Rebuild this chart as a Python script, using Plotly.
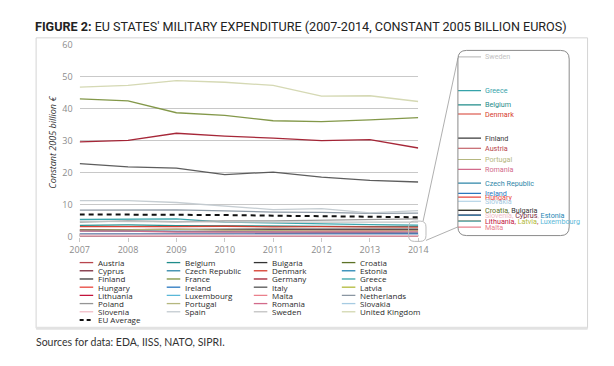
import plotly.graph_objects as go

W, H = 614, 366

years = [2007, 2008, 2009, 2010, 2011, 2012, 2013, 2014]

countries = ["Austria", "Belgium", "Bulgaria", "Croatia",
             "Cyprus", "Czech Republic", "Denmark", "Estonia",
             "Finland", "France", "Germany", "Greece",
             "Hungary", "Ireland", "Italy", "Latvia",
             "Lithuania", "Luxembourg", "Malta", "Netherlands",
             "Poland", "Portugal", "Romania", "Slovakia",
             "Slovenia", "Spain", "Sweden", "United Kingdom"]

austria = [2.20, 2.30, 2.30, 2.20, 2.20, 2.20, 2.10, 2.13]
belgium = [3.60, 3.70, 3.50, 3.40, 3.30, 3.20, 3.20, 3.28]
bulgaria = [0.75, 0.75, 0.60, 0.55, 0.50, 0.50, 0.50, 0.48]
croatia = [0.70, 0.70, 0.65, 0.60, 0.55, 0.50, 0.50, 0.48]
cyprus = [0.35, 0.38, 0.40, 0.38, 0.38, 0.36, 0.34, 0.35]
czech = [1.90, 1.80, 1.70, 1.50, 1.40, 1.30, 1.20, 1.20]
denmark = [3.20, 3.10, 3.20, 3.30, 3.10, 3.20, 3.10, 3.04]
estonia = [0.30, 0.30, 0.28, 0.27, 0.30, 0.32, 0.33, 0.35]
finland = [2.20, 2.30, 2.40, 2.40, 2.40, 2.40, 2.40, 2.40]
france = [43.0, 42.4, 38.7, 37.9, 36.2, 35.9, 36.5, 37.2]
germany = [29.6, 30.1, 32.3, 31.4, 30.8, 30.0, 30.3, 27.7]
greece = [5.40, 5.50, 5.60, 4.60, 4.30, 4.00, 3.80, 3.66]
hungary = [1.00, 0.95, 0.90, 0.85, 0.82, 0.80, 0.78, 0.83]
ireland = [0.90, 0.92, 0.95, 0.90, 0.88, 0.88, 0.90, 0.93]
italy = [22.8, 21.8, 21.4, 19.4, 20.2, 18.6, 17.6, 17.1]
latvia = [0.30, 0.28, 0.20, 0.18, 0.18, 0.18, 0.19, 0.19]
lithuania = [0.30, 0.32, 0.26, 0.22, 0.20, 0.20, 0.20, 0.19]
luxembourg = [0.15, 0.16, 0.17, 0.17, 0.18, 0.18, 0.19, 0.19]
malta = [0.04, 0.04, 0.04, 0.04, 0.04, 0.04, 0.04, 0.03]
netherlands = [8.30, 8.30, 8.40, 8.10, 7.70, 7.60, 7.30, 7.40]
poland = [4.60, 5.00, 4.70, 5.00, 5.00, 5.20, 5.30, 5.60]
portugal = [2.10, 2.20, 2.30, 2.10, 1.90, 1.80, 1.80, 1.83]
romania = [1.80, 1.80, 1.50, 1.45, 1.50, 1.50, 1.50, 1.57]
slovakia = [0.85, 0.85, 0.80, 0.70, 0.70, 0.68, 0.66, 0.72]
slovenia = [0.50, 0.50, 0.50, 0.45, 0.40, 0.37, 0.35, 0.35]
spain = [11.3, 11.3, 10.7, 9.7, 8.5, 8.8, 7.5, 8.2]
sweden = [4.80, 4.70, 4.60, 4.70, 4.60, 4.60, 4.50, 4.56]
uk = [46.7, 47.2, 48.7, 48.2, 47.2, 43.9, 44.0, 42.2]
eu_average = [7.0, 7.0, 7.0, 6.8, 6.6, 6.4, 6.3, 6.1]

series = [austria, belgium, bulgaria, croatia, cyprus, czech, denmark, estonia,
          finland, france, germany, greece, hungary, ireland, italy, latvia,
          lithuania, luxembourg, malta, netherlands, poland, portugal, romania,
          slovakia, slovenia, spain, sweden, uk]

colors = ["#b8454d", "#1f8c8a", "#333333", "#5d7226",
          "#7a2a3c", "#2e86a8", "#d63a2c", "#2586b4",
          "#3a3a3a", "#7d9340", "#a21c2e", "#35a3aa",
          "#e8453c", "#2a78c0", "#555555", "#b3ba3a",
          "#c2143c", "#5ab8d8", "#ea808c", "#8a96a2",
          "#959595", "#b5b77f", "#d26a8a", "#a6cbe2",
          "#f0bcc6", "#c3cbd0", "#c2c2c2", "#d3d7b0"]

inset_groups = [["Sweden"], ["Greece"], ["Belgium"], ["Denmark"], ["Finland"],
                ["Austria"], ["Portugal"], ["Romania"], ["Czech Republic"],
                ["Ireland"], ["Hungary"], ["Slovakia"], ["Croatia", "Bulgaria"],
                ["Slovenia", "Cyprus", "Estonia"],
                ["Lithuania", "Latvia", "Luxembourg"], ["Malta"]]

title_bold = "FIGURE 2:"
title_rest = "EU STATES' MILITARY EXPENDITURE (2007-2014, CONSTANT 2005 BILLION EUROS)"
source_text = "Sources for data: EDA, IISS, NATO, SIPRI."
y_title = "Constant 2005 billion €"
y_ticks = [0, 10, 20, 30, 40, 50, 60]


def X(px):
    return px / W


def Y(py):
    return 1 - py / H


data = dict(zip(countries, series))
col = dict(zip(countries, colors))

fig = go.Figure()

for name, vals, c in zip(countries, series, colors):
    fig.add_trace(go.Scatter(x=years, y=vals, mode="lines", name=name,
                             line=dict(color=c, width=1.3), opacity=0.95,
                             showlegend=False, hoverinfo="skip"))
fig.add_trace(go.Scatter(x=years, y=eu_average, mode="lines", name="EU Average",
                         line=dict(color="#111111", width=2, dash="5px,4px"),
                         showlegend=False))

# inset (zoom of the 2014 values)
inset_left, inset_right, inset_top, inset_bottom = 463, 578, 45, 237
seg_right = 487
zero_px, px_per_unit = 229.5, 39.0
y2_lo = (zero_px - inset_bottom) / px_per_unit
y2_hi = (zero_px - inset_top) / px_per_unit

for grp in inset_groups:
    for name in grp:
        v = data[name][-1]
        fig.add_trace(go.Scatter(x=[0, 1], y=[v, v], mode="lines",
                                 line=dict(color=col[name], width=1.2),
                                 xaxis="x2", yaxis="y2", showlegend=False,
                                 hoverinfo="skip"))

annotations = []
label_font = dict(family="Roboto, sans-serif", size=7.2)
for grp in inset_groups:
    v = data[grp[0]][-1]
    txt = ", ".join(f"<span style='color:{col[n]}'>{n}</span>" for n in grp)
    annotations.append(dict(x=X(seg_right + 3), y=v, xref="paper", yref="y2",
                            text=txt, showarrow=False, xanchor="left",
                            yanchor="middle", borderpad=0,
                            font=dict(color=col[grp[0]], **label_font)))

# title
annotations.append(dict(x=X(25), y=Y(20), xref="paper", yref="paper",
                        text=f"<b>{title_bold}</b> {title_rest}", showarrow=False,
                        xanchor="left", yanchor="middle", borderpad=0,
                        font=dict(family="Roboto, sans-serif",
                                  size=12.6, color="#222222")))
# source
annotations.append(dict(x=X(26), y=Y(347), xref="paper", yref="paper",
                        text=source_text, showarrow=False, xanchor="left",
                        yanchor="middle", borderpad=0,
                        font=dict(family="Lato, Open Sans, sans-serif", size=10.5,
                                  color="#333333")))
# y title
annotations.append(dict(x=X(43), y=Y(140), xref="paper", yref="paper",
                        text=y_title, showarrow=False, textangle=-90,
                        xanchor="center", yanchor="middle", borderpad=0,
                        font=dict(family="Open Sans, sans-serif", size=9,
                                  color="#333333", style="italic")))

shapes = []
# legend
legend_names = countries + ["EU Average"]
legend_colors = colors + ["#111111"]
col_x = [72, 162, 252, 343]
row_y0, row_dy = 265, 8.5
for i, (n, c) in enumerate(zip(legend_names, legend_colors)):
    r, k = divmod(i, 4)
    lx = col_x[k]
    ly = row_y0 + r * row_dy
    is_avg = n == "EU Average"
    shapes.append(dict(type="line", xref="paper", yref="paper",
                       x0=X(lx), x1=X(lx + 14), y0=Y(ly), y1=Y(ly),
                       line=dict(color=c, width=2 if is_avg else 1.3,
                                 dash="4px,3px" if is_avg else "solid")))
    annotations.append(dict(x=X(lx + 18), y=Y(ly), xref="paper", yref="paper",
                            text=n, showarrow=False, xanchor="left", yanchor="middle",
                            borderpad=0,
                            font=dict(family="Open Sans, sans-serif", size=8,
                                      color="#2a2a2a")))

# frame
shapes.append(dict(type="rect", xref="paper", yref="paper",
                   x0=X(27), x1=X(597), y0=Y(333), y1=Y(32),
                   line=dict(color="#d4d4d4", width=1)))
shapes.append(dict(type="line", xref="paper", yref="paper",
                   x0=X(27), x1=X(597), y0=Y(333), y1=Y(333),
                   line=dict(color="#e2e2e2", width=3)))


def rounded(x0, y0, x1, y1, r):
    p = [f"M {X(x0 + r)} {Y(y0)}", f"L {X(x1 - r)} {Y(y0)}",
         f"Q {X(x1)} {Y(y0)} {X(x1)} {Y(y0 + r)}", f"L {X(x1)} {Y(y1 - r)}",
         f"Q {X(x1)} {Y(y1)} {X(x1 - r)} {Y(y1)}", f"L {X(x0 + r)} {Y(y1)}",
         f"Q {X(x0)} {Y(y1)} {X(x0)} {Y(y1 - r)}", f"L {X(x0)} {Y(y0 + r)}",
         f"Q {X(x0)} {Y(y0)} {X(x0 + r)} {Y(y0)}", "Z"]
    return " ".join(p)


shapes.append(dict(type="path", xref="paper", yref="paper",
                   path=rounded(inset_left, inset_top, inset_right, inset_bottom, 9),
                   line=dict(color="#8a8a8a", width=1)))
shapes.append(dict(type="path", xref="paper", yref="paper",
                   path=rounded(412, 222, 430, 243, 6),
                   line=dict(color="#bbbbbb", width=1)))
shapes.append(dict(type="line", xref="paper", yref="paper",
                   x0=X(427), y0=Y(222), x1=X(inset_left), y1=Y(53),
                   line=dict(color="#9a9a9a", width=0.8)))
shapes.append(dict(type="line", xref="paper", yref="paper",
                   x0=X(430), y0=Y(242), x1=X(inset_left), y1=Y(228),
                   line=dict(color="#9a9a9a", width=0.8)))

fig.update_layout(
    width=W, height=H,
    margin=dict(l=0, r=0, t=0, b=0),
    paper_bgcolor="white", plot_bgcolor="white",
    showlegend=False,
    annotations=annotations,
    shapes=shapes,
    xaxis=dict(domain=[X(72), X(422)], range=[2007, 2014], tickvals=years,
               showgrid=False, zeroline=False, showline=False,
               ticks="outside", ticklen=4, tickcolor="#c8c8c8",
               tickfont=dict(family="Open Sans, sans-serif", size=9, color="#8c8c8c")),
    yaxis=dict(domain=[Y(238.3), Y(38.8)], range=[0, 60], tickvals=y_ticks,
               showgrid=True, gridcolor="#c9c9c9", gridwidth=1, zeroline=False,
               showline=False, ticks="", ticklabelstandoff=6,
               tickfont=dict(family="Open Sans, sans-serif", size=9, color="#8c8c8c")),
    xaxis2=dict(domain=[X(inset_left), X(seg_right)], range=[0, 1], visible=False,
                anchor="y2"),
    yaxis2=dict(domain=[Y(inset_bottom), Y(inset_top)], range=[y2_lo, y2_hi],
                visible=False, anchor="x2"),
)

fig.write_html("out.html", config={"displayModeBar": False},
               post_script="document.body.style.margin='0';"
                           "document.body.style.overflow='hidden';")
